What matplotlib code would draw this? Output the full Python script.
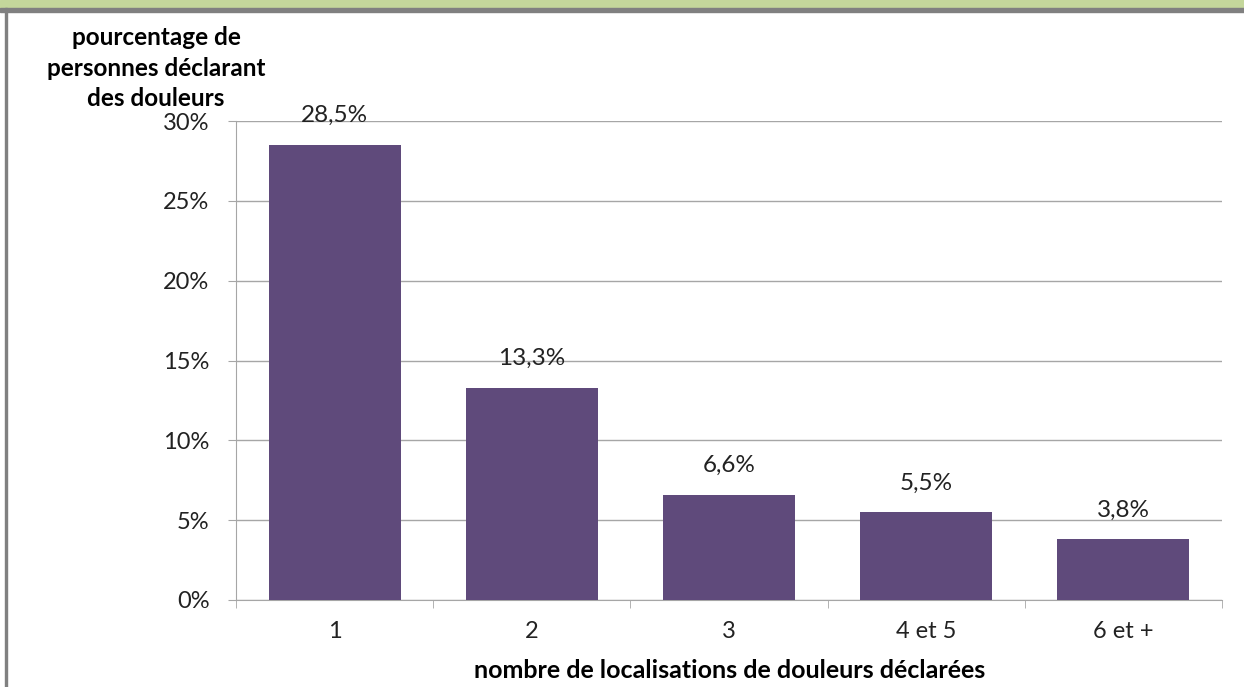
import matplotlib
matplotlib.use("Agg")
import matplotlib.pyplot as plt
from matplotlib.patches import Rectangle
from matplotlib.ticker import FuncFormatter

categories = ["1", "2", "3", "4 et 5", "6 et +"]
values = [28.5, 13.3, 6.6, 5.5, 3.8]
yticks = [0, 5, 10, 15, 20, 25, 30]

plt.rcParams["font.family"] = ["Lato", "DejaVu Sans"]

fig = plt.figure(figsize=(12.44, 6.87), dpi=100)
ax = fig.add_axes([236 / 1244, 1 - 600 / 687, (1222 - 236) / 1244, (600 - 121) / 687])

# frame: green band + grey rule on top, grey rule on the left
fig.patches.append(Rectangle((0, 1 - 8 / 687), 1, 8 / 687, transform=fig.transFigure,
                             color="#c4d79b", zorder=0))
fig.patches.append(Rectangle((0, 1 - 12 / 687), 1, 4 / 687, transform=fig.transFigure,
                             color="#808080", zorder=0))
fig.patches.append(Rectangle((5 / 1244, 0), 2 / 1244, 1 - 8 / 687, transform=fig.transFigure,
                             color="#808080", zorder=0))

x = list(range(len(categories)))
ax.bar(x, values, width=0.67, color="#5f4a7b", zorder=3)
for xi, v in zip(x, values):
    ax.annotate(f"{v:.1f}%".replace(".", ","), (xi, v), xytext=(0, 21),
                textcoords="offset points", ha="center", va="center",
                fontsize=17.5, color="#222222")

ax.set_xlim(-0.5, len(categories) - 0.5)
ax.set_ylim(0, 30)
ax.set_yticks(yticks)
ax.yaxis.set_major_formatter(FuncFormatter(lambda v, p: f"{v:.0f}%"))
ax.grid(axis="y", color="#a6a6a6", lw=1, zorder=0)
ax.set_axisbelow(True)

ax.set_xticks(x)
ax.set_xticklabels(categories)
ax.set_xticks([i + 0.5 for i in range(-1, len(categories))], minor=True)
ax.tick_params(axis="x", which="major", length=0, pad=15, labelsize=17)
ax.tick_params(axis="x", which="minor", length=6, color="#a6a6a6")
ax.tick_params(axis="y", length=6, color="#a6a6a6", labelsize=17, pad=13)
for lbl in ax.get_xticklabels() + ax.get_yticklabels():
    lbl.set_color("#222222")

for s in ["top", "right"]:
    ax.spines[s].set_visible(False)
ax.spines["left"].set_color("#a6a6a6")
ax.spines["bottom"].set_color("#a6a6a6")

fig.text(156 / 1244, 1 - 68 / 687, "pourcentage de\npersonnes déclarant\ndes douleurs",
         ha="center", va="center", fontsize=17.5, fontweight="bold", linespacing=1.4)
fig.text(730 / 1244, 1 - 670 / 687, "nombre de localisations de douleurs déclarées",
         ha="center", va="center", fontsize=18, fontweight="bold")

fig.savefig("out.png", dpi=100)
